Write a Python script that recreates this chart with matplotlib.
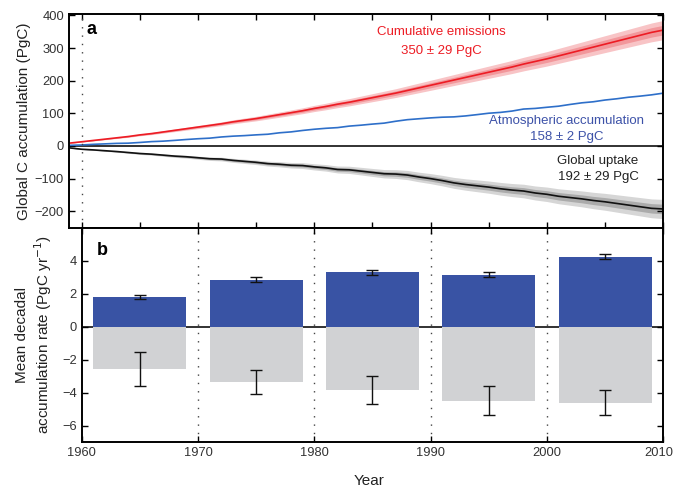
import numpy as np
import matplotlib
matplotlib.use('Agg')
import matplotlib.pyplot as plt
import matplotlib.transforms as mtransforms

plt.rcParams['font.family'] = ['Liberation Sans', 'DejaVu Sans']

# cumulative series (PgC), yearly 1959-2010
years = list(range(1959, 2011))
emissions = [9, 13, 17, 21, 25, 29, 34, 38, 43, 48, 53,
             58, 63, 68, 74, 79, 84, 90, 96, 102, 108,
             115, 121, 128, 134, 141, 148, 155, 162, 170, 178,
             186, 194, 202, 210, 218, 226, 234, 242, 251, 259,
             267, 276, 285, 294, 303, 312, 321, 330, 339, 348, 355]
atmosphere = [2, 3.1, 5.1, 6.5, 8.0, 8.6, 10.8, 13.4, 14.8, 17.2, 19.9,
              22.2, 24.0, 27.6, 30.1, 31.8, 34.1, 36.0, 40.4, 43.2, 47.6,
              51.3, 54.2, 56.3, 60.9, 63.7, 67.1, 70.0, 75.8, 80.6, 83.4,
              86.1, 88.2, 89.2, 92.1, 96.1, 100.4, 102.9, 107.0, 113.2, 115.1,
              118.6, 121.9, 127.3, 132.2, 135.5, 140.8, 144.6, 149.3, 152.7, 156.7, 161.8]
uptake = [-6, -10, -12, -14.5, -17, -20, -23, -25, -28, -31, -33,
          -36, -39, -40, -44, -47, -50, -54, -56, -59, -60,
          -64, -67, -72, -73, -77, -81, -85, -86, -89, -95,
          -100, -106, -113, -118, -122, -126, -131, -135, -138, -144,
          -148, -154, -158, -162, -167, -171, -176, -181, -186, -191, -193]
# stated uncertainty at the end: 350 +- 29 PgC
rel_err = 29 / 350

# decadal mean rates (PgC/yr)
decade_mid = [1965, 1975, 1985, 1995, 2005]
atm_rate = [1.83, 2.87, 3.30, 3.17, 4.25]
atm_rate_err = [0.13, 0.14, 0.15, 0.15, 0.16]
uptake_rate = [-2.55, -3.34, -3.83, -4.49, -4.60]
uptake_rate_err = [1.03, 0.72, 0.84, 0.87, 0.78]

years = np.array(years)
emissions = np.array(emissions, dtype=float)
atmosphere = np.array(atmosphere)
uptake = np.array(uptake, dtype=float)

red = '#ED1C24'
blue_line = '#2E6FC9'
blue_text = '#3D52A8'
bar_blue = '#3953A4'
bar_gray = '#D1D2D4'
tick_col = '#333333'

fig = plt.figure(figsize=(6.76, 4.87), dpi=100)
ax1 = fig.add_axes([0.102, 0.532, 0.879, 0.439])
ax2 = fig.add_axes([0.121, 0.092, 0.860, 0.440])

# ---- panel a ----
err = emissions * rel_err
ax1.fill_between(years, emissions - err, emissions + err, color='#F8C4C6', lw=0)
ax1.fill_between(years, emissions - err / 2, emissions + err / 2, color='#F2979B', lw=0)
ax1.plot(years, emissions, color=red, lw=1.2)

ax1.fill_between(years, uptake - err, uptake + err, color='#D6D6D6', lw=0)
ax1.fill_between(years, uptake - err / 2, uptake + err / 2, color='#ABABAB', lw=0)
ax1.plot(years, uptake, color='#111111', lw=1.2)

ax1.plot(years, atmosphere, color=blue_line, lw=1.2)

ax1.axhline(0, color='#222222', lw=1.3, zorder=1)
ax1.axvline(1960, color='#444444', lw=1, ls=(0, (1, 5)))

ax1.set_xlim(1958.9, 2010)
ax1.set_ylim(-251, 404)
ax1.set_yticks([-200, -100, 0, 100, 200, 300, 400])
ax1.set_yticklabels(['\u2212200', '\u2212100', '0', '100', '200', '300', '400'])
ax1.set_xticks(np.arange(1960, 2011, 5))
ax1.set_xticklabels([])
ax1.set_ylabel('Global C accumulation (PgC)', fontsize=11, color='#222222', labelpad=3)
ax1.text(0.03, 0.93, 'a', transform=ax1.transAxes, fontsize=13, fontweight='bold', va='center')

ax1.text(1990.9, 349, 'Cumulative emissions', color=red, fontsize=9.5, ha='center', va='center')
ax1.text(1990.9, 290, '350 ± 29 PgC', color=red, fontsize=9.5, ha='center', va='center')
ax1.text(2001.7, 77, 'Atmospheric accumulation', color=blue_text, fontsize=9.5, ha='center', va='center')
ax1.text(2001.7, 27, '158 ± 2 PgC', color=blue_text, fontsize=9.5, ha='center', va='center')
ax1.text(2004.4, -46, 'Global uptake', color='#222222', fontsize=9.5, ha='center', va='center')
ax1.text(2004.4, -96, '192 ± 29 PgC', color='#222222', fontsize=9.5, ha='center', va='center')

# ---- panel b ----
ax2.axhline(0, color='#222222', lw=1.3, zorder=1)
for x in [1970, 1980, 1990, 2000]:
    ax2.axvline(x, color='#444444', lw=1, ls=(0, (1, 5)), zorder=0)
ax2.bar(decade_mid, atm_rate, width=8, color=bar_blue, zorder=2)
ax2.bar(decade_mid, uptake_rate, width=8, color=bar_gray, zorder=2)
ax2.errorbar(decade_mid, atm_rate, yerr=atm_rate_err, fmt='none', ecolor='#111111',
             elinewidth=1, capsize=4.2, capthick=1, zorder=3)
ax2.errorbar(decade_mid, uptake_rate, yerr=uptake_rate_err, fmt='none', ecolor='#111111',
             elinewidth=1, capsize=4.2, capthick=1, zorder=3)

ax2.set_xlim(1960, 2010)
ax2.set_ylim(-7, 6)
ax2.set_yticks([-6, -4, -2, 0, 2, 4])
ax2.set_yticklabels(['\u22126', '\u22124', '\u22122', '0', '2', '4'])
ax2.set_xticks(np.arange(1960, 2011, 10))
ax2.set_xlabel('Year', fontsize=11, color='#222222')
ax2.xaxis.set_label_coords(0.494, -0.15)
ax2.set_ylabel('Mean decadal\naccumulation rate (PgC yr$^{-1}$)', fontsize=11,
               color='#222222', labelpad=6)
ax2.text(0.025, 0.893, 'b', transform=ax2.transAxes, fontsize=13, fontweight='bold', va='center')

for ax in (ax1, ax2):
    ax.tick_params(direction='in', top=True, right=True, length=4, width=1,
                   labelsize=9.3, labelcolor=tick_col)
    for s in ax.spines.values():
        s.set_linewidth(1.4)

# nudge the last year label so it stays inside the figure
last = ax2.get_xticklabels()[-1]
last.set_transform(last.get_transform() + mtransforms.ScaledTranslation(-3 / 72, 0, fig.dpi_scale_trans))

fig.savefig('out.png', dpi=100)
